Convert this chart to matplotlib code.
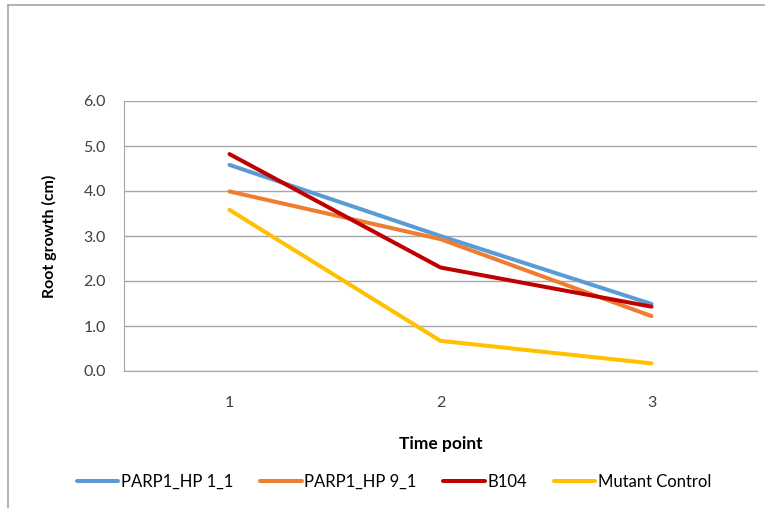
import matplotlib
matplotlib.use("Agg")
import matplotlib.pyplot as plt
from matplotlib.lines import Line2D

plt.rcParams['font.family'] = ['Lato', 'DejaVu Sans']

time_points = ["1", "2", "3"]
series_names = ["PARP1_HP 1_1", "PARP1_HP 9_1", "B104", "Mutant Control"]
parp1_hp1_1 = [4.58, 3.00, 1.49]
parp1_hp9_1 = [3.99, 2.93, 1.22]
b104 = [4.82, 2.30, 1.43]
mutant_control = [3.58, 0.67, 0.17]
colors = ["#5B9BD5", "#ED7D31", "#C00000", "#FFC000"]
y_ticks = [0.0, 1.0, 2.0, 3.0, 4.0, 5.0, 6.0]

W, H = 765, 508
fig = plt.figure(figsize=(W / 100, H / 100), dpi=100)
ax = fig.add_axes([124 / W, 1 - 371 / H, 633 / W, 270 / H])

x = list(range(len(time_points)))
for name, vals, c in zip(series_names,
                         [parp1_hp1_1, parp1_hp9_1, b104, mutant_control],
                         colors):
    ax.plot(x, vals, color=c, lw=2.9, solid_capstyle='round',
            solid_joinstyle='round', label=name, zorder=3)

ax.set_xlim(-0.5, len(time_points) - 0.5)
ax.set_ylim(0, 6)
ax.set_yticks(y_ticks)
ax.set_yticklabels([f"{v:.1f}" for v in y_ticks])
ax.set_xticks(x)
ax.set_xticklabels(time_points)
ax.tick_params(axis='both', length=0, labelsize=11.5, colors='#404040')
ax.tick_params(axis='y', pad=13)
ax.tick_params(axis='x', pad=18)
ax.yaxis.grid(True, color='#A6A6A6', lw=1.0, zorder=0)
ax.set_axisbelow(True)
for s in ['top', 'right']:
    ax.spines[s].set_visible(False)
ax.spines['left'].set_color('#A6A6A6')
ax.spines['bottom'].set_color('#A6A6A6')

ax.set_xlabel("Time point", fontsize=12.5, fontweight='bold', labelpad=19)
ax.set_ylabel("Root growth (cm)", fontsize=11.5, fontweight='bold', labelpad=19)

fig.legend(loc='center', bbox_to_anchor=(394 / W, 1 - 482 / H), ncol=4,
           frameon=False, fontsize=12, handlelength=2.5, handletextpad=0.15,
           columnspacing=1.6)

# outer chart frame
fig.add_artist(Line2D([8 / W, 8 / W], [0, 1 - 5 / H], color='#A6A6A6',
                      lw=1.2, transform=fig.transFigure))
fig.add_artist(Line2D([8 / W, 1], [1 - 5 / H, 1 - 5 / H], color='#A6A6A6',
                      lw=1.2, transform=fig.transFigure))

fig.savefig("out.png", dpi=100)
